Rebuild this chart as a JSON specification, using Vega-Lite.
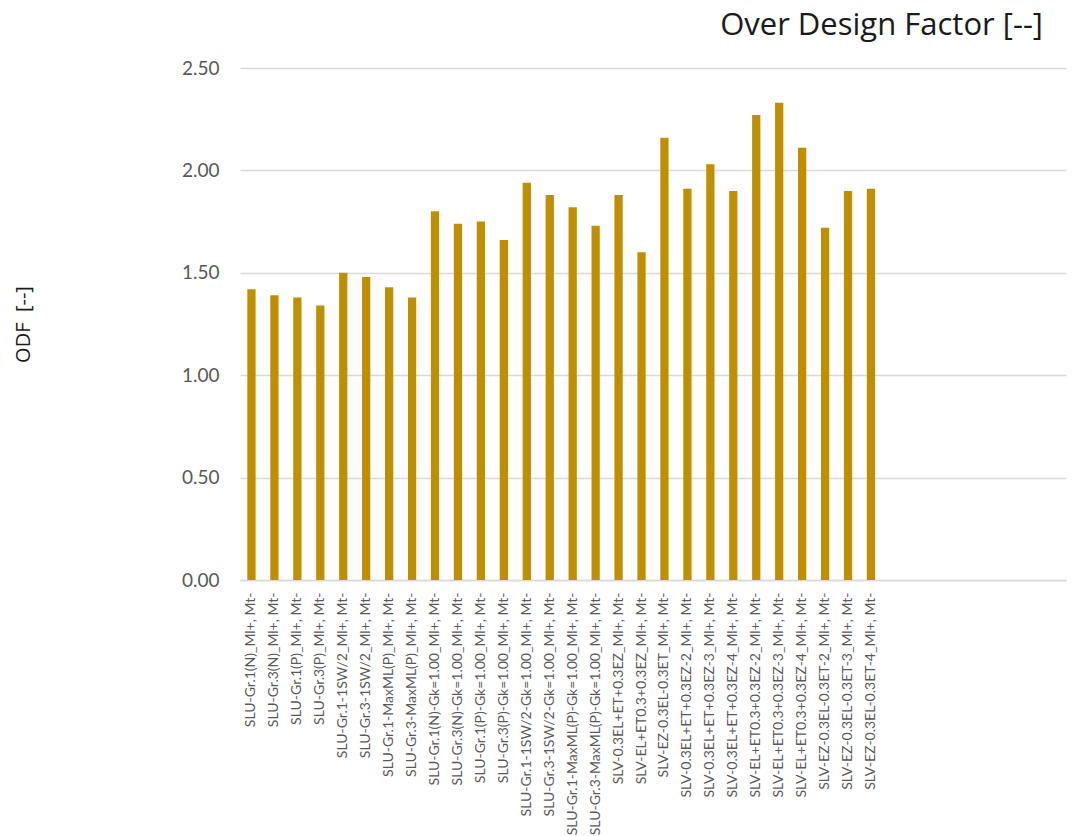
{
  "$schema": "https://vega.github.io/schema/vega-lite/v6.json",
  "autosize": {"type": "none"},
  "padding": {"left": 240, "top": 68, "right": 8, "bottom": 256},
  "width": 826,
  "height": 512,
  "background": "#ffffff",
  "title": {
    "text": "Over Design Factor [--]",
    "anchor": "end",
    "frame": "group",
    "dx": -23,
    "offset": 17,
    "font": "Open Sans",
    "fontSize": 31,
    "fontWeight": "normal",
    "color": "#1a1a1a"
  },
  "data": {
    "values": [
      {"combo": "SLU-Gr.1(N)_Ml+, Mt-", "odf": 1.42},
      {"combo": "SLU-Gr.3(N)_Ml+, Mt-", "odf": 1.39},
      {"combo": "SLU-Gr.1(P)_Ml+, Mt-", "odf": 1.38},
      {"combo": "SLU-Gr.3(P)_Ml+, Mt-", "odf": 1.34},
      {"combo": "SLU-Gr.1-1SW/2_Ml+, Mt-", "odf": 1.50},
      {"combo": "SLU-Gr.3-1SW/2_Ml+, Mt-", "odf": 1.48},
      {"combo": "SLU-Gr.1-MaxML(P)_Ml+, Mt-", "odf": 1.43},
      {"combo": "SLU-Gr.3-MaxML(P)_Ml+, Mt-", "odf": 1.38},
      {"combo": "SLU-Gr.1(N)-Gk=1.00_Ml+, Mt-", "odf": 1.80},
      {"combo": "SLU-Gr.3(N)-Gk=1.00_Ml+, Mt-", "odf": 1.74},
      {"combo": "SLU-Gr.1(P)-Gk=1.00_Ml+, Mt-", "odf": 1.75},
      {"combo": "SLU-Gr.3(P)-Gk=1.00_Ml+, Mt-", "odf": 1.66},
      {"combo": "SLU-Gr.1-1SW/2-Gk=1.00_Ml+, Mt-", "odf": 1.94},
      {"combo": "SLU-Gr.3-1SW/2-Gk=1.00_Ml+, Mt-", "odf": 1.88},
      {"combo": "SLU-Gr.1-MaxML(P)-Gk=1.00_Ml+, Mt-", "odf": 1.82},
      {"combo": "SLU-Gr.3-MaxML(P)-Gk=1.00_Ml+, Mt-", "odf": 1.73},
      {"combo": "SLV-0.3EL+ET+0.3EZ_Ml+, Mt-", "odf": 1.88},
      {"combo": "SLV-EL+ET0.3+0.3EZ_Ml+, Mt-", "odf": 1.60},
      {"combo": "SLV-EZ-0.3EL-0.3ET_Ml+, Mt-", "odf": 2.16},
      {"combo": "SLV-0.3EL+ET+0.3EZ-2_Ml+, Mt-", "odf": 1.91},
      {"combo": "SLV-0.3EL+ET+0.3EZ-3_Ml+, Mt-", "odf": 2.03},
      {"combo": "SLV-0.3EL+ET+0.3EZ-4_Ml+, Mt-", "odf": 1.90},
      {"combo": "SLV-EL+ET0.3+0.3EZ-2_Ml+, Mt-", "odf": 2.27},
      {"combo": "SLV-EL+ET0.3+0.3EZ-3_Ml+, Mt-", "odf": 2.33},
      {"combo": "SLV-EL+ET0.3+0.3EZ-4_Ml+, Mt-", "odf": 2.11},
      {"combo": "SLV-EZ-0.3EL-0.3ET-2_Ml+, Mt-", "odf": 1.72},
      {"combo": "SLV-EZ-0.3EL-0.3ET-3_Ml+, Mt-", "odf": 1.90},
      {"combo": "SLV-EZ-0.3EL-0.3ET-4_Ml+, Mt-", "odf": 1.91}
    ]
  },
  "mark": {"type": "bar", "color": "#BF8F00", "width": {"band": 0.36}},
  "encoding": {
    "x": {
      "field": "combo",
      "type": "nominal",
      "sort": null,
      "scale": {
        "domain": [
          "SLU-Gr.1(N)_Ml+, Mt-", "SLU-Gr.3(N)_Ml+, Mt-", "SLU-Gr.1(P)_Ml+, Mt-", "SLU-Gr.3(P)_Ml+, Mt-",
          "SLU-Gr.1-1SW/2_Ml+, Mt-", "SLU-Gr.3-1SW/2_Ml+, Mt-", "SLU-Gr.1-MaxML(P)_Ml+, Mt-", "SLU-Gr.3-MaxML(P)_Ml+, Mt-",
          "SLU-Gr.1(N)-Gk=1.00_Ml+, Mt-", "SLU-Gr.3(N)-Gk=1.00_Ml+, Mt-", "SLU-Gr.1(P)-Gk=1.00_Ml+, Mt-", "SLU-Gr.3(P)-Gk=1.00_Ml+, Mt-",
          "SLU-Gr.1-1SW/2-Gk=1.00_Ml+, Mt-", "SLU-Gr.3-1SW/2-Gk=1.00_Ml+, Mt-", "SLU-Gr.1-MaxML(P)-Gk=1.00_Ml+, Mt-", "SLU-Gr.3-MaxML(P)-Gk=1.00_Ml+, Mt-",
          "SLV-0.3EL+ET+0.3EZ_Ml+, Mt-", "SLV-EL+ET0.3+0.3EZ_Ml+, Mt-", "SLV-EZ-0.3EL-0.3ET_Ml+, Mt-",
          "SLV-0.3EL+ET+0.3EZ-2_Ml+, Mt-", "SLV-0.3EL+ET+0.3EZ-3_Ml+, Mt-", "SLV-0.3EL+ET+0.3EZ-4_Ml+, Mt-",
          "SLV-EL+ET0.3+0.3EZ-2_Ml+, Mt-", "SLV-EL+ET0.3+0.3EZ-3_Ml+, Mt-", "SLV-EL+ET0.3+0.3EZ-4_Ml+, Mt-",
          "SLV-EZ-0.3EL-0.3ET-2_Ml+, Mt-", "SLV-EZ-0.3EL-0.3ET-3_Ml+, Mt-", "SLV-EZ-0.3EL-0.3ET-4_Ml+, Mt-",
          "pad1", "pad2", "pad3", "pad4", "pad5", "pad6", "pad7", "pad8"
        ],
        "paddingInner": 0,
        "paddingOuter": 0
      },
      "axis": {
        "title": null,
        "labelAngle": -90,
        "labelExpr": "indexof(datum.value, 'pad') === 0 ? '' : datum.value",
        "labelFont": "Lato",
        "labelFontSize": 14,
        "labelColor": "#595959",
        "labelPadding": 12,
        "labelLimit": 260,
        "labelOverlap": false,
        "ticks": false,
        "domain": true,
        "domainColor": "#D9D9D9",
        "domainWidth": 1.5,
        "grid": false
      }
    },
    "y": {
      "field": "odf",
      "type": "quantitative",
      "scale": {"domain": [0, 2.5], "nice": false},
      "axis": {
        "title": "ODF\u00a0\u00a0[--]",
        "titleFont": "Open Sans",
        "titleFontSize": 20,
        "titleFontWeight": "normal",
        "titleColor": "#1a1a1a",
        "titlePadding": 148,
        "values": [0, 0.5, 1, 1.5, 2, 2.5],
        "format": ".2f",
        "labelFont": "Lato",
        "labelFontSize": 19,
        "labelColor": "#595959",
        "labelPadding": 21,
        "ticks": false,
        "domain": false,
        "grid": true,
        "gridColor": "#D9D9D9",
        "gridWidth": 1.5
      }
    }
  },
  "config": {"view": {"stroke": null}}
}
